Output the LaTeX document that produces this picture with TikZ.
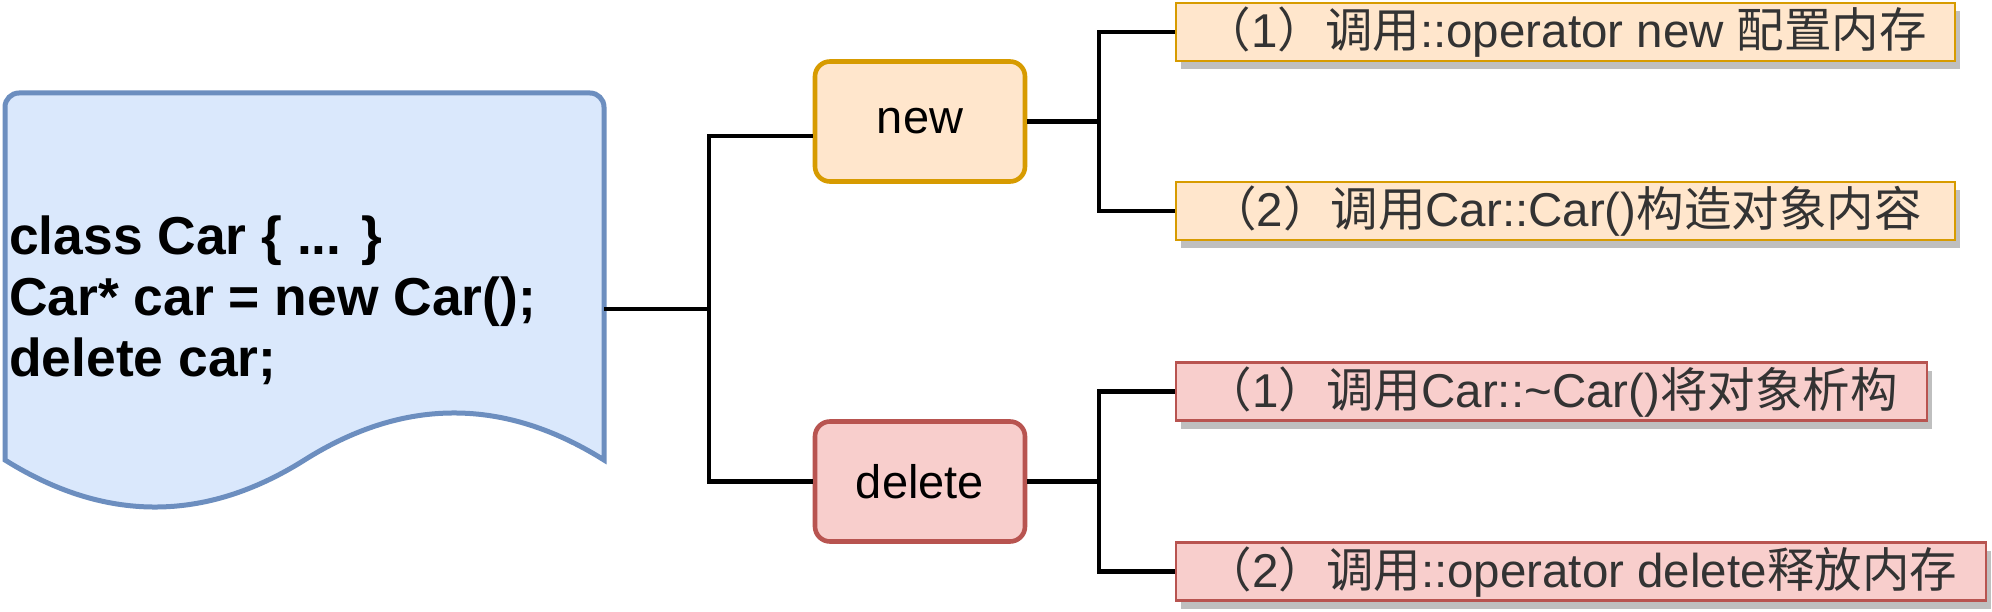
\documentclass[tikz,border=0pt]{standalone}
\usepackage{fontspec}
\setmainfont{Liberation Sans}
\newfontfamily\cjk{Noto Sans CJK SC}
\usetikzlibrary{shadows}
\definecolor{docfill}{HTML}{DAE8FC}
\definecolor{docdraw}{HTML}{6C8EBF}
\definecolor{orfill}{HTML}{FFE6CC}
\definecolor{ordraw}{HTML}{D79B00}
\definecolor{rdfill}{HTML}{F8CECC}
\definecolor{rddraw}{HTML}{B85450}
\definecolor{shadowgray}{HTML}{BFBFBF}
\definecolor{labeltext}{HTML}{333333}
\newcommand{\zh}[1]{{\cjk #1}}
\begin{document}
\begin{tikzpicture}[x=1pt,y=-1pt,
  conn/.style={line width=4.6pt, draw=black},
  opbox/.style={rounded corners=15pt, line width=4.6pt, minimum width=210pt, minimum height=120pt, inner sep=0pt, font=\fontsize{47}{56}\selectfont},
  stepbox/.style={line width=2.7pt, inner sep=0pt, minimum height=58pt, text height=38pt, text depth=6pt, anchor=west, text=labeltext, font=\fontsize{47.5}{57}\selectfont,
    drop shadow={shadow xshift=5.5pt, shadow yshift=-8.5pt, fill=shadowgray, opacity=1}},
  orange/.style={fill=orfill, draw=ordraw},
  red/.style={fill=rdfill, draw=rddraw},
  codeline/.style={anchor=base west, inner sep=0pt, font=\bfseries\fontsize{53.4}{61}\selectfont}
]
\useasboundingbox (0,0) rectangle (1992,612);
% document shape
\filldraw[fill=docfill, draw=docdraw, line width=5pt]
  (5,460) -- (5,107) .. controls (5,99.3) and (11.3,93) .. (19,93)
  -- (590,93) .. controls (597.7,93) and (604,99.3) .. (604,107)
  -- (604,460) .. controls (504,397.3) and (404,397.3) .. (304.5,460)
  .. controls (205,522.7) and (105,522.7) .. (5,460) -- cycle;
\node[minimum width=599pt, minimum height=432pt, inner sep=0pt] (doc) at (304.5,309) {};
\node[codeline] (code1) at (9,254.5) {class Car \{ ... \}};
\node[codeline] (code2) at (9,315.5) {Car* car = new Car();};
\node[codeline] (code3) at (9,376.5) {delete car;};
% operator boxes
\node[opbox, orange] (new) at (920,121.5) {new};
\node[opbox, red] (delete) at (920,481.5) {delete};
% step boxes
\node[stepbox, orange, minimum width=779pt] (b1) at (1174.5,32) {\zh{（}1\zh{）调用}::operator new \zh{配置内存}};
\node[stepbox, orange, minimum width=779pt] (b2) at (1174.5,211) {\zh{（}2\zh{）调用}Car::Car()\zh{构造对象内容}};
\node[stepbox, red, minimum width=751pt] (b3) at (1174.5,391.5) {\zh{（}1\zh{）调用}Car::\textasciitilde Car()\zh{将对象析构}};
\node[stepbox, red, minimum width=810pt] (b4) at (1174.5,571.5) {\zh{（}2\zh{）调用}::operator delete\zh{释放内存}};
% connectors
\coordinate (bx) at (709,309);
\coordinate (nb) at (1099,121.5);
\coordinate (db) at (1099,481.5);
\draw[conn] (doc.east) -- (bx);
\draw[conn] (bx) |- ([yshift=-14.5pt]new.west);
\draw[conn] (bx) |- (delete.west);
\draw[conn] (new.east) -- (nb);
\draw[conn] (nb) |- (b1.west);
\draw[conn] (nb) |- (b2.west);
\draw[conn] (delete.east) -- (db);
\draw[conn] (db) |- (b3.west);
\draw[conn] (db) |- (b4.west);
\end{tikzpicture}
\end{document}
